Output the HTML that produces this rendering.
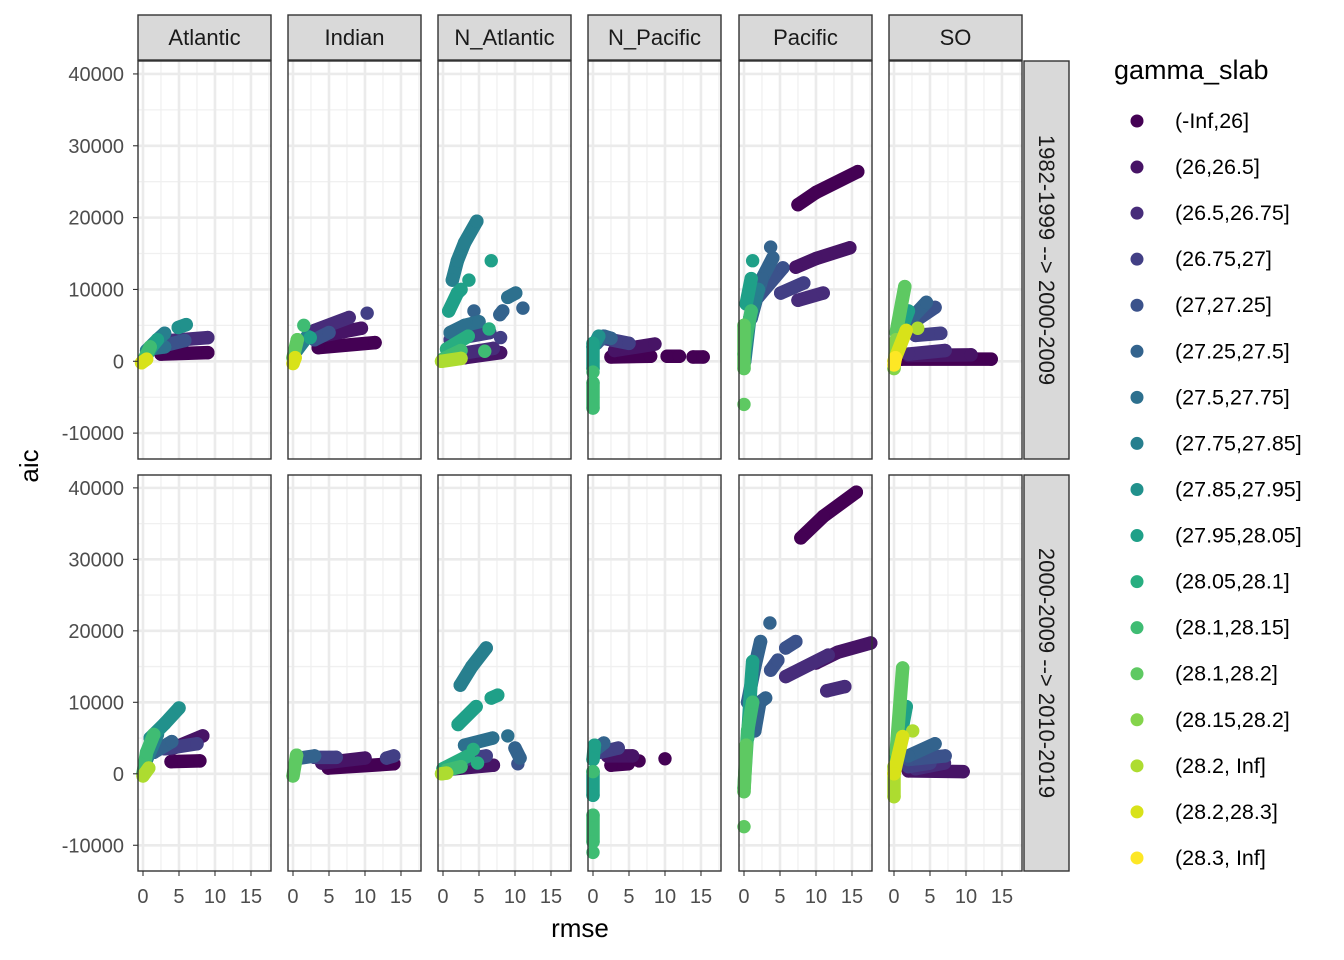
<!DOCTYPE html>
<html><head><meta charset="utf-8">
<style>
body{margin:0;background:#fff;}
svg{display:block;font-family:"Liberation Sans",Arial,sans-serif;}
</style></head>
<body>
<svg id="chart" width="1344" height="960" viewBox="0 0 1344 960" xmlns="http://www.w3.org/2000/svg"></svg>
<script>
const regions = ["Atlantic","Indian","N_Atlantic","N_Pacific","Pacific","SO"];
const periods = ["1982-1999 --> 2000-2009","2000-2009 --> 2010-2019"];
const classLabels = ["(-Inf,26]","(26,26.5]","(26.5,26.75]","(26.75,27]","(27,27.25]","(27.25,27.5]","(27.5,27.75]","(27.75,27.85]","(27.85,27.95]","(27.95,28.05]","(28.05,28.1]","(28.1,28.15]","(28.1,28.2]","(28.15,28.2]","(28.2, Inf]","(28.2,28.3]","(28.3, Inf]"];
const classColors = ["#440154","#471466","#472C7A","#423F85","#3B528B","#33638D","#2D708E","#277F8E","#21918C","#1FA088","#28AE80","#3FBC73","#5EC962","#84D44B","#ADDC30","#D8E219","#FDE725"];
const xTicks = [0,5,10,15];
const yTicks = [-10000,0,10000,20000,30000,40000];
// tracks: [row, regionIndex, classIndex, [[rmse, aic(thousands)], ...]]
const tracks = [
 [0,0,0,[[2.5,1.0],[9,1.2]]],
 [0,0,2,[[3.9,2.9],[9,3.3]]],
 [0,0,4,[[3,2.2],[5.8,2.9]]],
 [0,0,6,[[1.5,1.8],[3,2]]],
 [0,0,7,[[0.5,1.5],[2,3],[3,3.9]]],
 [0,0,8,[[4.9,4.7],[6,5.1]]],
 [0,0,9,[[0.3,0.5],[1.2,2],[2,3]]],
 [0,0,11,[[0,0],[0.5,1],[1,2]]],
 [0,0,15,[[-0.2,-0.2],[0.5,0.3]]],
 [0,1,0,[[3.5,1.9],[11.4,2.6]]],
 [0,1,1,[[4.4,3.6],[9.5,4.6]]],
 [0,1,2,[[3,4.3],[7.8,6.1]]],
 [0,1,3,[[10.3,6.7]]],
 [0,1,4,[[3,3],[5,4]]],
 [0,1,7,[[0.5,1.5],[2,3.5]]],
 [0,1,9,[[2.4,3.3]]],
 [0,1,11,[[1.5,5.0]]],
 [0,1,12,[[0,0.5],[0.6,3]]],
 [0,1,15,[[0,-0.3],[0.3,0.5]]],
 [0,2,1,[[3,0.5],[8,1.2]]],
 [0,2,2,[[2,1],[7,1.8]]],
 [0,2,3,[[1,3],[6.5,4]]],
 [0,2,3,[[8,3.3]]],
 [0,2,5,[[7.9,6.5],[8.3,7.0]]],
 [0,2,5,[[11.1,7.4]]],
 [0,2,5,[[4.3,7]]],
 [0,2,6,[[9,8.9],[10.1,9.5]]],
 [0,2,6,[[1,4],[3,5],[5,5.5]]],
 [0,2,7,[[1.3,11.3],[2,14],[3,16.5],[4.7,19.5]]],
 [0,2,9,[[6.7,14.0]]],
 [0,2,9,[[3.6,11.3]]],
 [0,2,9,[[0.8,7],[2,9.5],[2.5,10]]],
 [0,2,10,[[6.4,4.5]]],
 [0,2,10,[[0.5,1.7],[3.5,3.5]]],
 [0,2,11,[[5.8,1.4]]],
 [0,2,11,[[0,0.3],[2.5,1.5]]],
 [0,2,14,[[-0.2,0],[2.5,0.4]]],
 [0,3,0,[[2.5,0.6],[8,0.7]]],
 [0,3,0,[[10.3,0.7],[12,0.7]]],
 [0,3,0,[[13.9,0.6],[15.3,0.6]]],
 [0,3,1,[[3,1.5],[8.6,2.4]]],
 [0,3,3,[[1,3.3],[5,2.5]]],
 [0,3,5,[[0.5,2.5],[1.5,3.5],[2.5,3.2]]],
 [0,3,8,[[0,2],[0.8,3.5]]],
 [0,3,9,[[0,-1],[0,2.5]]],
 [0,3,11,[[0,-3],[0,-6.5]]],
 [0,3,11,[[0,-1.5]]],
 [0,4,0,[[7.5,21.8],[10,23.5],[15.8,26.4]]],
 [0,4,1,[[7.2,13.1],[10,14.3],[14.7,15.8]]],
 [0,4,2,[[7.5,8.5],[11,9.5]]],
 [0,4,3,[[5.1,9.5],[8.3,10.9]]],
 [0,4,4,[[2,9],[5.4,13]]],
 [0,4,5,[[1,6],[2.5,11.5],[4,14.4]]],
 [0,4,5,[[3.7,15.9]]],
 [0,4,7,[[0.1,0],[0.8,6],[2,10]]],
 [0,4,9,[[1.2,14]]],
 [0,4,9,[[0.3,8],[1,11.5]]],
 [0,4,11,[[0,1],[0.4,4],[1,7]]],
 [0,4,12,[[0,-1],[0,5]]],
 [0,4,12,[[0,-6]]],
 [0,5,0,[[1,0.3],[13.5,0.3]]],
 [0,5,1,[[2,0.8],[10.7,0.9]]],
 [0,5,2,[[2,1],[7.1,1.5]]],
 [0,5,3,[[3,3.6],[6.5,3.9]]],
 [0,5,4,[[2,5],[5.7,7.5]]],
 [0,5,5,[[1.5,5],[4.5,8.2]]],
 [0,5,9,[[0.5,3],[2,7]]],
 [0,5,12,[[0.3,4],[1.5,10.4]]],
 [0,5,13,[[0,-1],[0.3,3]]],
 [0,5,14,[[3.3,4.6]]],
 [0,5,15,[[0,0],[1.7,4.3]]],
 [0,5,16,[[0,-0.5],[0.2,0.5]]],
 [1,0,0,[[3.9,1.7],[7.9,1.8]]],
 [1,0,1,[[4,3.5],[8.3,5.3]]],
 [1,0,3,[[3,3.5],[7.5,4.2]]],
 [1,0,5,[[1.5,3],[4,4.5]]],
 [1,0,7,[[0.5,2],[2,5.5]]],
 [1,0,8,[[1,5],[3,7],[5,9.2]]],
 [1,0,11,[[0,0],[0.5,3],[1.5,5.5]]],
 [1,0,14,[[0,-0.3],[0.8,0.8]]],
 [1,1,0,[[4.9,0.8],[14,1.4]]],
 [1,1,1,[[4,1.5],[10,2.2]]],
 [1,1,3,[[3,2.3],[6,2.3]]],
 [1,1,3,[[13,2.2],[14,2.5]]],
 [1,1,5,[[1,2.2],[3,2.5]]],
 [1,1,12,[[0,-0.3],[0.5,2.6]]],
 [1,2,1,[[0.5,0.6],[7,1.2]]],
 [1,2,3,[[3,2],[6,2.5]]],
 [1,2,4,[[10.4,1.4]]],
 [1,2,5,[[10,3.6],[10.7,2.2]]],
 [1,2,6,[[3,4],[6.9,5]]],
 [1,2,6,[[9,5.3]]],
 [1,2,7,[[2.4,12.4],[4,15],[6,17.6]]],
 [1,2,9,[[2.1,6.9],[4.6,9.4]]],
 [1,2,9,[[6.7,10.6],[7.6,11]]],
 [1,2,10,[[0,0.7],[3.5,2.5]]],
 [1,2,10,[[4.2,3.4]]],
 [1,2,10,[[4.8,1.5]]],
 [1,2,11,[[0.5,0.5],[2.5,1]]],
 [1,2,14,[[-0.2,0],[0.5,0.1]]],
 [1,3,0,[[2.5,1.2],[4.9,1.4]]],
 [1,3,0,[[6.4,1.8]]],
 [1,3,0,[[10,2.1]]],
 [1,3,1,[[2,2.5],[5.5,2.5]]],
 [1,3,3,[[1,3],[3.5,3.6]]],
 [1,3,5,[[0.5,3.5],[1.5,4.3]]],
 [1,3,9,[[0,2],[0.2,4]]],
 [1,3,9,[[0,0.3],[0,-3]]],
 [1,3,11,[[0,-5.8],[0,-9.5]]],
 [1,3,11,[[0,-11]]],
 [1,3,11,[[0,0.3]]],
 [1,4,0,[[7.9,33],[11,36],[15.6,39.4]]],
 [1,4,1,[[10,15.5],[13,17],[17.6,18.3]]],
 [1,4,2,[[5.8,13.6],[11.7,16.6]]],
 [1,4,2,[[11.5,11.6],[14,12.2]]],
 [1,4,4,[[5.8,17.6],[7.2,18.5]]],
 [1,4,4,[[3.7,14.5],[4.7,15.9]]],
 [1,4,5,[[3.6,21.1]]],
 [1,4,5,[[0.5,10],[1.5,15],[2.3,18.5]]],
 [1,4,5,[[1.5,6],[2.2,10],[3,10.6]]],
 [1,4,9,[[0.5,5],[1,13],[1.2,15.7]]],
 [1,4,11,[[0,-2],[0.5,6],[1.2,10]]],
 [1,4,12,[[0,-2.5],[0.3,4]]],
 [1,4,12,[[0,-7.4]]],
 [1,5,1,[[2,0.4],[9.6,0.3]]],
 [1,5,2,[[3,0.7],[7,1.5]]],
 [1,5,3,[[2,1],[5,1.5]]],
 [1,5,4,[[2,2],[7.1,2.5]]],
 [1,5,5,[[2,2.5],[5.7,4.2]]],
 [1,5,9,[[0.5,3],[1.7,9.4]]],
 [1,5,11,[[0,0],[0.5,4]]],
 [1,5,12,[[0.3,3],[1.2,14.8]]],
 [1,5,14,[[2.6,6]]],
 [1,5,14,[[0,-3.2],[0,1]]],
 [1,5,15,[[0,0],[1.2,5.2]]]
];

const NS = "http://www.w3.org/2000/svg";
const svg = document.getElementById("chart");
function mk(tag, attrs, parent){
  const e = document.createElementNS(NS, tag);
  for (const k in attrs) e.setAttribute(k, attrs[k]);
  (parent||svg).appendChild(e);
  return e;
}
const panelLeft = [138,288,438,588,739,889];
const panelW = 133;
const rowTop = [61,475];
const rowH = [398,396];
const xMin = -0.694, xMax = 17.78;
const yMin = -13.6, yMax = 41.8;
function xPos(c, v){ return panelLeft[c] + (v - xMin) / (xMax - xMin) * panelW; }
function yPos(r, v){ return rowTop[r] + (yMax - v) / (yMax - yMin) * rowH[r]; }

for (let r = 0; r < 2; r++){
  for (let c = 0; c < 6; c++){
    const g = mk("g", {});
    
    
    mk("rect", {x:panelLeft[c], y:rowTop[r], width:panelW, height:rowH[r], fill:"#fff"}, g);
    [2.5,7.5,12.5,17.5].forEach(v=>{ const x=xPos(c,v); mk("line",{x1:x,x2:x,y1:rowTop[r],y2:rowTop[r]+rowH[r],stroke:"#F0F0F0","stroke-width":1.3},g); });
    [-5,5,15,25,35].forEach(v=>{ const y=yPos(r,v); mk("line",{x1:panelLeft[c],x2:panelLeft[c]+panelW,y1:y,y2:y,stroke:"#F0F0F0","stroke-width":1.3},g); });
    xTicks.forEach(v=>{ const x=xPos(c,v); mk("line",{x1:x,x2:x,y1:rowTop[r],y2:rowTop[r]+rowH[r],stroke:"#EBEBEB","stroke-width":2.6},g); });
    yTicks.forEach(v=>{ const y=yPos(r,v/1000); mk("line",{x1:panelLeft[c],x2:panelLeft[c]+panelW,y1:y,y2:y,stroke:"#EBEBEB","stroke-width":2.6},g); });
    tracks.filter(t=>t[0]===r && t[1]===c).forEach(t=>{
      const col = classColors[t[2]];
      const pts = t[3].map(p=>[xPos(c,p[0]), yPos(r,p[1])]);
      if (pts.length > 1){
        const pl = mk("polyline",{points:pts.map(p=>p.join(",")).join(" "),fill:"none",stroke:col,"stroke-width":13.5,"stroke-linecap":"round","stroke-linejoin":"round"},g);
        
        
      }
      pts.forEach(p=>{
        const ci = mk("circle",{cx:p[0],cy:p[1],r:6.7,fill:col},g);
        
        
      });
    });
    mk("rect", {x:panelLeft[c], y:rowTop[r], width:panelW, height:rowH[r], fill:"none", stroke:"#333", "stroke-width":1.4}, g);
    if (r === 1){
      xTicks.forEach(v=>{
        const x = xPos(c,v);
        mk("line",{x1:x,x2:x,y1:871,y2:876,stroke:"#333","stroke-width":1.1},g);
        const t = mk("text",{x:x,y:903,"text-anchor":"middle","font-size":20,fill:"#4D4D4D"},g);
        t.textContent = v;
        
        
      });
    }
    if (c === 0){
      yTicks.forEach(v=>{
        const y = yPos(r,v/1000);
        mk("line",{x1:133,x2:138,y1:y,y2:y,stroke:"#333","stroke-width":1.1},g);
        const t = mk("text",{x:124,y:y+7,"text-anchor":"end","font-size":20,fill:"#4D4D4D"},g);
        t.textContent = v;
        
        
      });
    }
  }
}
regions.forEach((name,c)=>{
  const g = mk("g",{});
  
  
  mk("rect",{x:panelLeft[c],y:15,width:panelW,height:45,fill:"#D9D9D9",stroke:"#333","stroke-width":1.4},g);
  const t = mk("text",{x:panelLeft[c]+panelW/2,y:45,"text-anchor":"middle","font-size":22,fill:"#1A1A1A"},g);
  t.textContent = name;
});
periods.forEach((name,r)=>{
  const g = mk("g",{});
  
  
  mk("rect",{x:1024,y:rowTop[r],width:45,height:rowH[r],fill:"#D9D9D9",stroke:"#333","stroke-width":1.4},g);
  const cy = rowTop[r] + rowH[r]/2;
  const t = mk("text",{x:1039,y:cy,"text-anchor":"middle","font-size":22,fill:"#1A1A1A",transform:`rotate(90 1039 ${cy})`},g);
  t.textContent = name;
});
let t = mk("text",{x:580,y:937,"text-anchor":"middle","font-size":26,fill:"#000"});
t.textContent = "rmse";


t = mk("text",{x:38,y:466,"text-anchor":"middle","font-size":26,fill:"#000",transform:"rotate(-90 38 466)"});
t.textContent = "aic";


const lg = mk("g",{});


t = mk("text",{x:1114,y:79,"font-size":27,fill:"#000"},lg);
t.textContent = "gamma_slab";


classLabels.forEach((lab,i)=>{
  const y = 121 + i*46.06;
  const e = mk("g",{},lg);
  
  
  mk("circle",{cx:1137,cy:y,r:6.5,fill:classColors[i]},e);
  const tx = mk("text",{x:1175,y:y+7,"font-size":21.5,fill:"#000"},e);
  tx.textContent = lab;
});
</script>
</body></html>
